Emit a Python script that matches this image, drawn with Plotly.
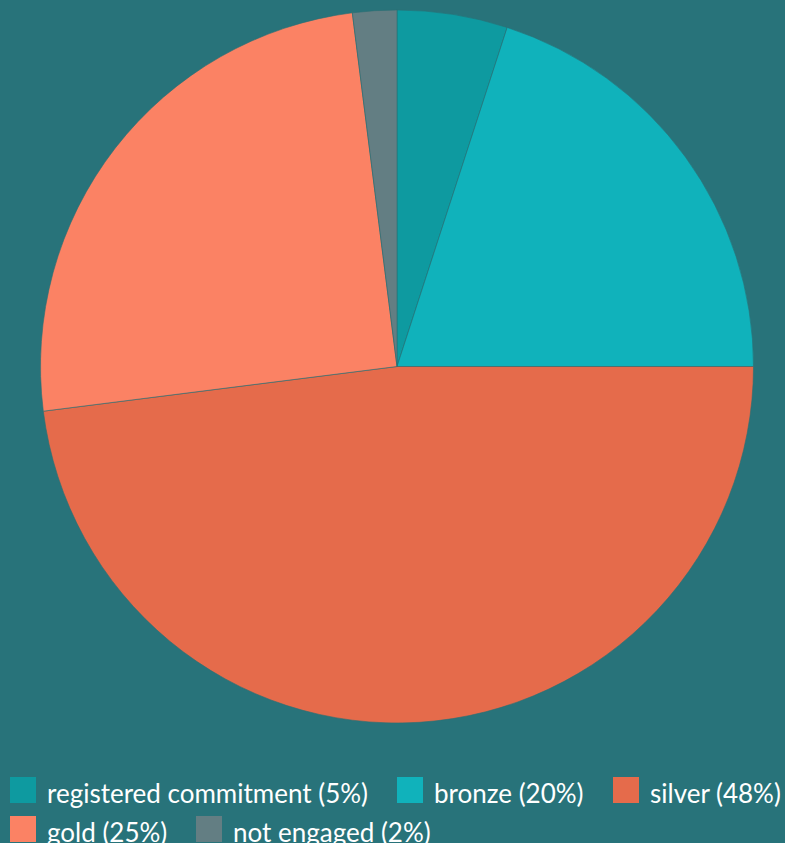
import plotly.graph_objects as go

# ── Data ─────────────────────────────────────────────────
labels = ["registered commitment", "bronze", "silver", "gold", "not engaged"]
shares = [5, 20, 48, 25, 2]
colors = ["#0e9aa0", "#10b2bb", "#e56b4b", "#fb8264", "#637e83"]

legend_names = [f"{l} ({s}%)" for l, s in zip(labels, shares)]

# legend placement in pixels (swatch left, row centre y)
legend_pos = [(10, 790), (397, 790), (613, 790), (10, 829), (196, 829)]

W, H = 785, 843
L, R, T, B = 38, 29, 10, 120


def px_x(x):
    return (x - L) / (W - L - R)


def px_y(y):
    return (H - B - y) / (H - T - B)


fig = go.Figure(
    go.Pie(
        labels=legend_names,
        values=shares,
        sort=False,
        direction="clockwise",
        rotation=0,
        textinfo="none",
        hoverinfo="label",
        marker=dict(colors=colors, line=dict(color="#2a6e74", width=0.6)),
        showlegend=False,
    )
)

# ── Custom legend (big square swatches) ──────────────────
for name, col, (sx, cy) in zip(legend_names, colors, legend_pos):
    fig.add_shape(
        type="rect", xref="paper", yref="paper",
        x0=px_x(sx), x1=px_x(sx + 26),
        y0=px_y(cy + 13), y1=px_y(cy - 13),
        fillcolor=col, line=dict(width=0),
    )
    fig.add_annotation(
        xref="paper", yref="paper",
        x=px_x(sx + 35), y=px_y(cy + 3),
        text=name, showarrow=False,
        xanchor="left", yanchor="middle",
        font=dict(size=26, color="#ffffff"),
    )

# ── Style ────────────────────────────────────────────────
fig.update_layout(
    width=W,
    height=H,
    paper_bgcolor="#28737a",
    plot_bgcolor="#28737a",
    font=dict(family="Lato, sans-serif", size=22, color="#ffffff"),
    margin=dict(t=T, b=B, l=L, r=R, autoexpand=False),
    showlegend=False,
)

fig.write_html(
    "out.html",
    config={"displayModeBar": False},
    post_script="document.body.style.margin='0';"
                "document.body.style.overflow='hidden';"
                "document.body.style.background='#28737a';",
)
